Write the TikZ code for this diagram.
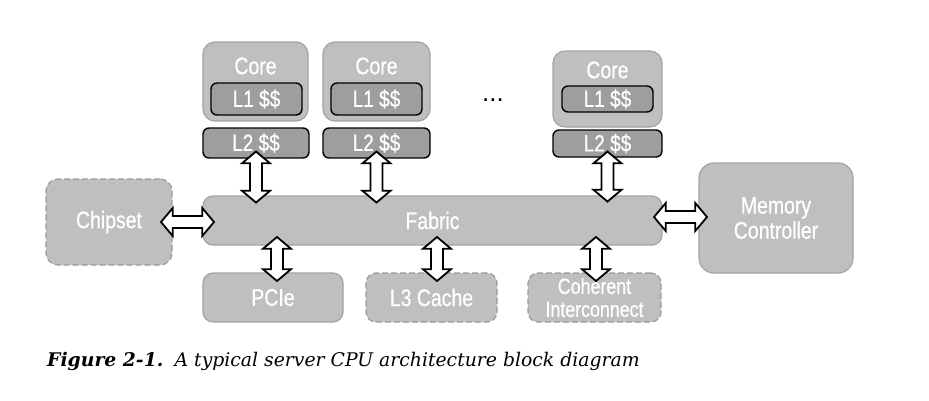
\documentclass[tikz,border=0pt]{standalone}
\usepackage{fontspec}
\newfontfamily\boxfont{Liberation Sans}[FakeStretch=0.81, FakeBold=0.6]
\newfontfamily\dotfont{Liberation Sans}
\newfontfamily\capfont{DejaVu Serif}
\usetikzlibrary{shapes.arrows}
\definecolor{boxfill}{HTML}{BFBFBF}
\definecolor{boxline}{HTML}{A3A3A3}
\definecolor{cachefill}{HTML}{9E9E9E}
\definecolor{dashline}{HTML}{9A9A9A}
\tikzset{
  blk/.style={rectangle, fill=boxfill, draw=boxline, line width=1.2pt, rounded corners=10pt, inner sep=0pt, text=white, font=\boxfont\fontsize{24}{25}\selectfont, align=center},
  dblk/.style={blk, draw=dashline, dash pattern=on 6pt off 3pt},
  coreblk/.style={blk, rounded corners=12pt},
  cacheblk/.style={rectangle, fill=cachefill, draw=black, line width=1.4pt, rounded corners=6pt, inner sep=0pt, text=white, font=\boxfont\fontsize{23.5}{25}\selectfont},
  txt/.style={text=white, font=\boxfont\fontsize{24}{25}\selectfont, inner sep=0pt},
  darrow/.style={double arrow, draw=black, fill=white, line width=1.8pt, inner xsep=0pt, inner ysep=5pt, minimum width=28pt, double arrow head extend=8pt, double arrow tip angle=100},
}
\begin{document}
\begin{tikzpicture}[x=1pt,y=-1pt]
\useasboundingbox (0,0) rectangle (929,400);

% cores
\node[coreblk, minimum width=105pt, minimum height=79pt] (core1) at (255.5,81.5) {};
\node[txt] (core1t) at (255.5,66) {Core};
\node[cacheblk, minimum width=91pt, minimum height=32pt] (l1a) at (256.5,99) {L1 \$\$};
\node[cacheblk, minimum width=106pt, minimum height=30pt] (l2a) at (256,143) {L2 \$\$};

\node[coreblk, minimum width=107pt, minimum height=79pt] (core2) at (376.5,81.5) {};
\node[txt] (core2t) at (376.5,66) {Core};
\node[cacheblk, minimum width=91pt, minimum height=32pt] (l1b) at (376.5,99) {L1 \$\$};
\node[cacheblk, minimum width=107pt, minimum height=30pt] (l2b) at (376.5,143) {L2 \$\$};

\node[font=\dotfont\fontsize{26}{28}\selectfont, inner sep=0pt, anchor=base] (dots) at (493,101) {...};

\node[coreblk, minimum width=109pt, minimum height=76pt] (core3) at (607.5,89) {};
\node[txt] (core3t) at (607.5,70) {Core};
\node[cacheblk, minimum width=91pt, minimum height=26pt] (l1c) at (607.5,99) {L1 \$\$};
\node[cacheblk, minimum width=109pt, minimum height=27pt] (l2c) at (607.5,143.5) {L2 \$\$};

% fabric and peripherals
\node[blk, minimum width=459pt, minimum height=49pt] (fabric) at (432.5,220.5) {Fabric};
\node[dblk, rounded corners=12pt, minimum width=126pt, minimum height=86pt] (chipset) at (109,222) {Chipset};
\node[blk, rounded corners=15pt, minimum width=154pt, minimum height=110pt] (mem) at (776,218) {Memory\\Controller};
\node[blk, minimum width=140pt, minimum height=49pt] (pcie) at (273,297.5) {PCIe};
\node[dblk, minimum width=131pt, minimum height=49pt] (l3) at (431.5,297.5) {L3 Cache};
\node[dblk, minimum width=133pt, minimum height=49pt, font=\boxfont\fontsize{22}{23}\selectfont] (coh) at (594.5,297.5) {Coherent\\Interconnect};

% arrows
\path (l2a.south) -- (l2a.south |- fabric.north) node[midway, darrow, rotate=90, minimum height=51pt] (a1) {};
\path (l2b.south) -- (l2b.south |- fabric.north) node[midway, darrow, rotate=90, minimum height=51pt] (a2) {};
\path (l2c.south) -- (l2c.south |- fabric.north) node[midway, darrow, rotate=90, minimum height=50pt] (a3) {};
\path ([xshift=4pt]pcie.north) -- ([xshift=4pt]pcie.north |- fabric.south) node[midway, darrow, rotate=90, minimum height=44pt] (a4) {};
\path ([xshift=5.5pt]l3.north) -- ([xshift=5.5pt]l3.north |- fabric.south) node[midway, darrow, rotate=90, minimum height=44pt] (a5) {};
\path ([xshift=1.5pt]coh.north) -- ([xshift=1.5pt]coh.north |- fabric.south) node[midway, darrow, rotate=90, minimum height=44pt] (a6) {};
\path (chipset.east) -- (chipset.east -| fabric.west) node[midway, darrow, minimum height=53pt] (a7) {};
\path ([yshift=1pt]mem.west) -- ([yshift=1pt]mem.west -| fabric.east) node[midway, darrow, minimum height=53pt] (a8) {};

% caption
\node[anchor=base west, inner sep=0pt, font=\capfont\itshape\fontsize{18.8}{21}\selectfont] (cap) at (47,366) {\textbf{Figure 2-1.}\hspace{0.6em}A typical server CPU architecture block diagram};
\end{tikzpicture}
\end{document}
